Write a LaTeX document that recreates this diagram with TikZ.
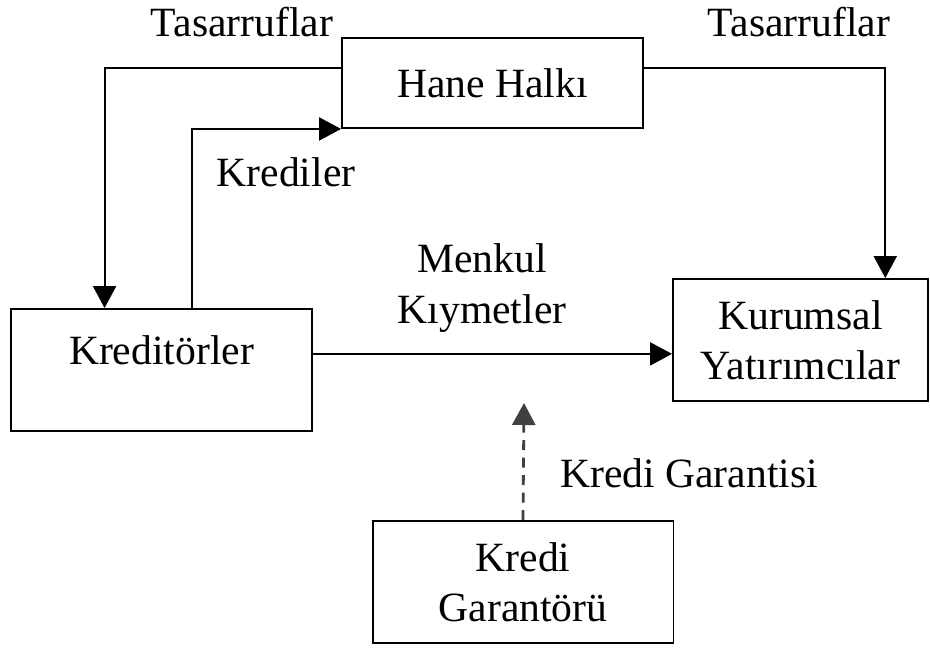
\documentclass[tikz,border=0pt]{standalone}
\usepackage{fontspec}
\setmainfont{Liberation Serif}
\usetikzlibrary{arrows.meta}
\usetikzlibrary{positioning}
\usetikzlibrary{calc}

\begin{document}
\begin{tikzpicture}[x=0.02cm,y=-0.02cm,
  box/.style={draw,line width=1.1pt,minimum width=6.02cm,align=center,inner sep=0pt},
  lbl/.style={inner sep=0pt,align=center},
  flow/.style={line width=1.2pt,-{Triangle[length=0.44cm,width=0.46cm]}},
  font=\fontsize{23.7}{28.5}\selectfont]
  \useasboundingbox (0,0) rectangle (930,647);

  % boxes
  \node[box,minimum height=1.8cm] (hane) at (492.5,83) {Hane Halkı};
  \node[box,minimum height=2.44cm,text depth=0.8cm] (kred) at (161.5,370) {Kreditörler};
  \node[box,minimum height=2.44cm,minimum width=5.1cm] (kurum) at (800.5,340) {Kurumsal\\Yatırımcılar};
  \node[box,minimum height=2.44cm] (garant) at (523,582) {Kredi\\Garantörü};

  % labels
  \node[lbl] (tasl) at (242,22) {Tasarruflar};
  \node[lbl] (tasr) at (799,22) {Tasarruflar};
  \node[lbl] (kredl) at (286,172) {Krediler};
  \node[lbl] (menk) at (482,288) {Menkul\\Kıymetler};
  \node[lbl] (garl) at (689,473) {Kredi Garantisi};

  \coordinate (mk) at ($(kred.north east)!0.37!(kred.south east)$);
  \coordinate (gtip) at (524,403);

  \draw[flow] ($(hane.north west)!0.333!(hane.south west)$) -| ($(kred.north west)!0.312!(kred.north east)$);
  \draw[flow] ($(kred.north west)!0.6!(kred.north east)$) |- (hane.south west);
  \draw[flow] ($(hane.north east)!0.333!(hane.south east)$) -| ($(kurum.north west)!0.83!(kurum.north east)$);
  \draw[flow] (mk) -- (mk -| kurum.west);
  \draw[flow,line width=1.6pt,draw=black!75,dash pattern=on 0.2cm off 0.15cm] (garant.north) -- (gtip);
\end{tikzpicture}
\end{document}
